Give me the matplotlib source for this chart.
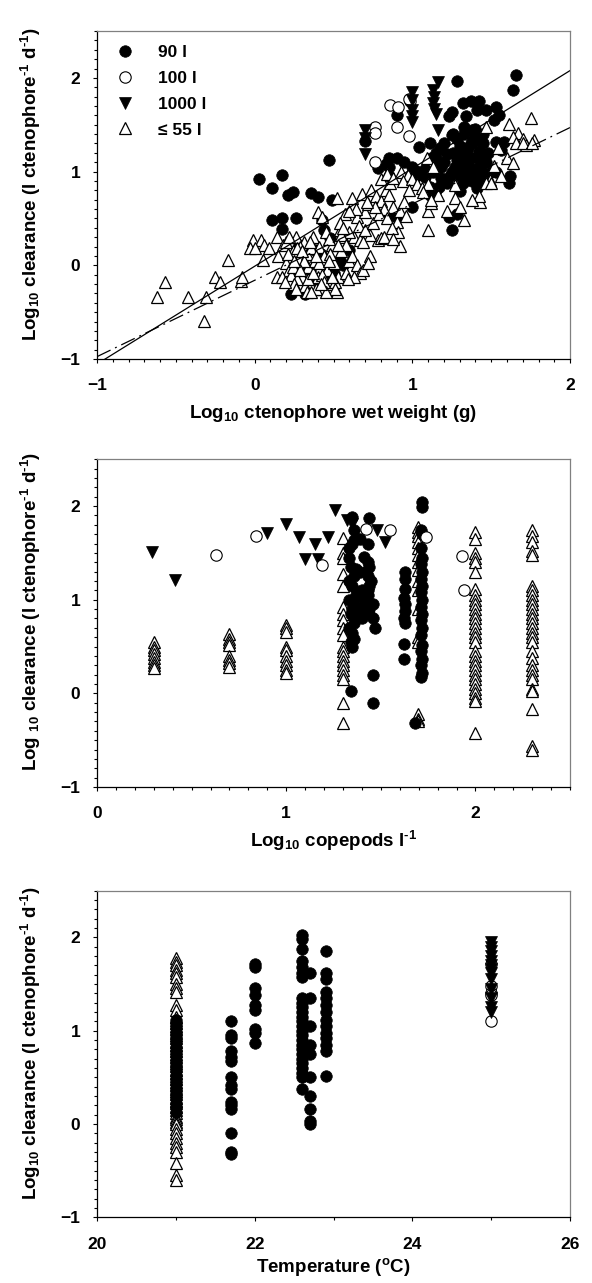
import matplotlib
matplotlib.use('Agg')
import matplotlib.pyplot as plt
from matplotlib.lines import Line2D
from matplotlib.ticker import MultipleLocator

plt.rcParams['font.family'] = ['Liberation Sans', 'DejaVu Sans']
plt.rcParams['font.weight'] = 'bold'
plt.rcParams['mathtext.fontset'] = 'custom'
plt.rcParams['mathtext.rm'] = 'Liberation Sans:bold'
plt.rcParams['mathtext.it'] = 'Liberation Sans:bold'
plt.rcParams['mathtext.bf'] = 'Liberation Sans:bold'
plt.rcParams['mathtext.default'] = 'rm'

# ---- panel 1: clearance vs log10 wet weight ----
w_90_x = [0.03, 0.11, 0.17, 0.21, 0.24, 0.36, 0.40, 0.49, 0.47, 0.11, 0.17, 0.26, 0.17, 0.43, 0.44,
          0.48, 0.60, 0.38, 0.56, 0.48, 0.23, 0.32, 0.30, 0.35, 0.42, 0.45, 0.28, 0.50, 0.38, 0.54,
          0.70, 0.85, 0.85, 0.85, 0.90, 0.83, 0.78, 0.85, 0.90, 0.995, 1.02, 1.08, 1.04, 1.11, 1.175,
          1.22, 1.08, 1.08, 1.11, 1.11, 1.17, 1.15, 1.25, 1.38, 1.39, 1.23, 1.25, 1.32, 1.34, 1.37,
          1.41, 1.42, 1.47, 1.53, 1.52, 1.55, 1.28, 1.66, 1.64, 1.30, 1.34, 1.41, 1.45, 1.28, 1.32,
          1.36, 1.40, 1.30, 1.41, 1.53, 1.58, 1.56, 1.53, 1.62, 1.61, 1.23, 1.28, 1.25, 1.20, 1.25,
          1.35, 1.38, 1.43, 1.33, 1.37, 1.42, 1.47, 1.50, 1.45, 1.02, 0.96, 1.13, 1.18, 1.15, 1.26,
          0.90, 1.26,
          1.15, 1.20, 1.28, 1.33, 1.38, 1.30, 1.22, 1.27, 1.42, 1.35, 1.45, 1.32, 1.18, 1.24, 1.40,
          1.48, 1.12, 1.00, 0.95, 1.33, 1.40, 1.45, 1.36, 1.29, 1.44, 1.31, 1.39]
w_90_y = [0.92, 0.83, 0.96, 0.75, 0.78, 0.77, 0.73, 0.70, 1.12, 0.48, 0.50, 0.50, 0.39, 0.48, 0.38,
          0.29, 0.16, 0.16, 0.00, -0.10, -0.31, -0.31, 0.00, -0.05, 0.12, -0.15, 0.22, -0.08, -0.18, 0.06,
          1.33, 1.14, 1.05, 0.95, 1.15, 1.08, 1.04, 0.52, 0.52, 0.625, 1.01, 0.94, 1.26, 1.30, 1.25,
          1.19, 1.03, 0.95, 0.84, 0.75, 0.84, 0.80, 1.39, 1.44, 1.33, 1.59, 1.64, 1.73, 1.59, 1.75,
          1.66, 1.75, 1.66, 1.69, 1.55, 1.60, 1.97, 2.03, 1.87, 1.27, 1.20, 1.16, 1.14, 1.12, 1.05,
          1.05, 1.02, 0.79, 0.82, 1.32, 1.32, 1.23, 1.00, 0.95, 0.875, 0.52, 0.55, 0.38, 1.10, 1.00,
          0.95, 0.90, 0.88, 1.12, 1.30, 1.22, 1.10, 1.00, 0.95, 0.95, 0.90, 1.00, 0.93, 1.13, 1.20,
          1.60, 1.40,
          1.20, 1.30, 1.35, 1.40, 1.15, 0.95, 0.88, 1.05, 1.05, 1.25, 1.30, 0.88, 1.05, 0.95, 0.95,
          1.20, 1.15, 1.05, 1.10, 1.48, 1.45, 1.40, 0.98, 1.18, 1.00, 1.08, 1.36]

w_100_x = [0.86, 0.91, 0.985, 0.976, 0.76, 0.76, 0.90, 0.98, 0.76]
w_100_y = [1.71, 1.69, 1.75, 1.78, 1.48, 1.41, 1.48, 1.38, 1.10]

w_1000_x = [1.16, 1.13, 1.14, 1.13, 1.14, 1.15, 1.00, 1.00, 1.00, 1.00, 1.00, 1.16, 0.70, 0.70, 0.70]
w_1000_y = [1.96, 1.87, 1.80, 1.73, 1.67, 1.62, 1.85, 1.76, 1.66, 1.59, 1.53, 1.44, 1.44, 1.36, 1.19]

w_55_x = [-0.62, -0.57, -0.42, -0.31, -0.32, -0.25, -0.22, -0.17, -0.09, -0.08,
          -0.01, 0.04, 0.06, -0.03, 0.00, 0.09, 0.05, 0.14,
          0.15, 0.18, 0.20, 0.22, 0.24, 0.26, 0.28, 0.30, 0.31, 0.33, 0.34, 0.35, 0.37, 0.38, 0.40,
          0.41, 0.42, 0.44, 0.45, 0.46, 0.47, 0.49, 0.50, 0.52, 0.53, 0.55, 0.56, 0.58, 0.60,
          0.20, 0.23, 0.27, 0.29, 0.32, 0.36, 0.39, 0.43, 0.48, 0.51, 0.54, 0.14, 0.17, 0.21, 0.25,
          0.40, 0.43, 0.52, 0.57, 0.62, 0.65, 0.70, 0.68, 0.72, 0.74, 0.77, 0.80, 0.83, 0.86, 0.88,
          0.90, 0.91, 0.92, 0.78, 0.80, 0.73, 0.63, 0.67, 0.60, 0.54, 0.55, 0.58, 0.62, 0.65, 0.67,
          0.63, 0.73, 0.69, 0.56, 0.72, 0.59,
          0.80, 0.84, 0.88, 0.93, 0.97, 0.94, 1.00, 1.03, 1.06, 1.10, 0.98, 0.92, 0.96, 1.10, 1.12,
          1.16, 1.07, 1.09, 1.13, 0.85, 0.82,
          1.10, 1.27, 1.43, 1.42, 1.49, 1.47, 1.47, 1.61, 1.75, 1.67, 1.70, 1.64, 1.77, 1.72, 1.66,
          1.60, 1.64, 1.52, 1.56, 1.50, 1.38, 1.33, 1.22, 1.27, 1.54, 1.70, 1.76, 1.12, 1.30,
          0.19, 0.24, 0.27, 0.31, 0.34, 0.37, 0.41, 0.44, 0.47, 0.51, 0.22, 0.26, 0.30, 0.35, 0.39,
          0.45, 0.49, 0.53, 0.33, 0.29, 0.42, 0.36, 0.25, 0.47,
          0.66, 0.70, 0.75, 0.79, 0.84, 0.87, 0.76, 0.71, 0.64, 0.82, 0.88, 0.95, 0.60, 0.69]
w_55_y = [-0.34, -0.18, -0.34, -0.34, -0.59, -0.12, -0.18, 0.06, -0.17, -0.12,
          0.27, 0.27, 0.22, 0.18, 0.18, 0.18, 0.06, 0.30,
          0.10, 0.22, 0.02, -0.05, 0.15, 0.30, 0.08, -0.12, 0.25, 0.12, -0.02, -0.20, 0.30, 0.05, -0.12,
          0.20, -0.25, 0.10, 0.35, -0.05, -0.20, 0.22, 0.02, -0.28, -0.12, 0.15, 0.30, -0.08, 0.05,
          0.25, -0.10, -0.15, 0.20, -0.22, 0.18, -0.25, -0.10, 0.12, -0.18, 0.38, -0.12, -0.12, 0.12, -0.20,
          0.57, 0.52, 0.72, 0.55, 0.72, 0.52, 0.57, 0.76, 0.65, 0.80, 0.74, 0.69, 0.80, 0.88, 0.62,
          0.46, 0.35, 0.21, 0.27, 0.29, 0.32, 0.30, 0.27, 0.36, 0.45, 0.32, 0.22, 0.10, 0.00, -0.08,
          -0.12, 0.10, -0.05, 0.40, 0.02, -0.15,
          0.92, 0.97, 0.93, 1.00, 0.96, 0.90, 0.92, 0.87, 0.82, 0.87, 0.80, 0.58, 0.53, 0.58, 0.66,
          0.75, 0.78, 1.14, 1.05, 0.75, 0.60,
          0.38, 0.86, 0.68, 0.74, 0.91, 0.88, 1.48, 1.51, 1.57, 1.41, 1.35, 1.37, 1.34, 1.28, 1.30,
          1.14, 1.09, 1.06, 0.95, 0.88, 0.70, 0.48, 0.58, 0.72, 1.25, 1.31, 1.30, 0.70, 0.62,
          -0.18, -0.02, 0.18, 0.05, -0.15, -0.08, 0.02, -0.18, 0.28, -0.25, 0.30, -0.25, 0.15, 0.25, 0.10,
          -0.28, -0.12, 0.22, -0.28, -0.05, -0.20, -0.28, 0.05, 0.05,
          0.42, 0.38, 0.45, 0.55, 0.50, 0.40, 0.62, 0.68, 0.60, 0.30, 0.28, 0.68, 0.58, 0.25]

# regression lines (slope, intercept)
fit_all = (1.044, -0.01)
fit_55 = (0.815, -0.16)

# ---- panel 2: clearance vs log10 copepods ----
c_90_x = [1.35, 1.36, 1.36, 1.35, 1.37, 1.36, 1.35, 1.37, 1.36, 1.35, 1.37, 1.36, 1.35, 1.36, 1.35, 1.34,
          1.44, 1.41, 1.42, 1.45, 1.43, 1.41, 1.46, 1.44, 1.46, 1.47, 1.46, 1.46,
          1.33, 1.33, 1.34, 1.33, 1.33, 1.34, 1.33, 1.34,
          1.39, 1.39, 1.40, 1.39, 1.40,
          1.43, 1.43, 1.44, 1.43, 1.44, 1.43, 1.44, 1.43,
          1.63, 1.63, 1.63, 1.62, 1.63, 1.63, 1.62, 1.63, 1.62, 1.62,
          1.72, 1.72, 1.71, 1.72, 1.71, 1.72, 1.71, 1.72, 1.71, 1.72, 1.71, 1.72, 1.71, 1.72, 1.71,
          1.72, 1.71, 1.72, 1.71, 1.72, 1.71, 1.72, 1.71, 1.68]
c_90_y = [1.88, 1.74, 1.64, 1.60, 1.33, 1.25, 1.15, 1.05, 0.95, 0.90, 0.80, 0.75, 0.65, 0.58, 0.50, 0.02,
          1.87, 1.46, 1.30, 1.20, 1.10, 1.00, 0.95, 0.90, 0.80, 0.70, 0.20, -0.10,
          1.55, 1.45, 1.35, 1.20, 1.00, 0.85, 0.70, 0.55,
          1.65, 1.30, 1.10, 0.90, 0.80,
          1.60, 1.40, 1.35, 1.25, 1.15, 1.05, 0.85, 0.95,
          1.30, 1.22, 1.12, 1.02, 0.95, 0.88, 0.80, 0.75, 0.53, 0.37,
          2.04, 1.99, 1.75, 1.70, 1.55, 1.45, 1.38, 1.30, 1.22, 1.15, 1.08, 1.00, 0.92, 0.85, 0.78,
          0.70, 0.62, 0.52, 0.45, 0.37, 0.30, 0.22, 0.17, -0.32]

c_100_x = [0.63, 0.84, 1.19, 1.42, 1.55, 1.74, 1.93, 1.94]
c_100_y = [1.48, 1.68, 1.37, 1.76, 1.74, 1.67, 1.47, 1.10]

c_1000_x = [0.29, 0.41, 0.90, 1.00, 1.07, 1.15, 1.10, 1.17, 1.22, 1.26, 1.32, 1.35, 1.48, 1.52]
c_1000_y = [1.51, 1.21, 1.71, 1.81, 1.67, 1.60, 1.44, 1.43, 1.67, 1.96, 1.85, 1.81, 1.74, 1.62]

cop_levels = [0.301, 0.699, 1.0, 1.301, 1.699, 2.0, 2.301]
c_55_y = [
    [0.55, 0.50, 0.46, 0.42, 0.38, 0.34, 0.30, 0.27],
    [0.63, 0.58, 0.55, 0.52, 0.40, 0.36, 0.32, 0.28],
    [0.73, 0.70, 0.66, 0.50, 0.46, 0.40, 0.35, 0.30, 0.25, 0.22],
    [1.66, 1.50, 1.45, 1.28, 1.15, 0.92, 0.85, 0.78, 0.70, 0.62, 0.50, 0.45, 0.40, 0.35, 0.30,
     0.25, 0.20, 0.15, -0.10, -0.32],
    [1.78, 1.72, 1.68, 1.62, 1.55, 1.48, 1.40, 1.32, 1.20, 1.10, 0.90, 0.60, 0.55, -0.22, -0.27, -0.30],
    [1.72, 1.65, 1.50, 1.45, 1.40, 1.30, 1.12, 1.05, 1.00, 0.95, 0.90, 0.85, 0.80, 0.75, 0.70, 0.65,
     0.60, 0.55, 0.45, 0.40, 0.35, 0.30, 0.25, 0.20, 0.15, 0.10, 0.05, 0.00, -0.05, -0.08, -0.42],
    [1.74, 1.68, 1.62, 1.52, 1.48, 1.15, 1.10, 1.05, 1.00, 0.95, 0.90, 0.85, 0.80, 0.75, 0.70, 0.65,
     0.60, 0.55, 0.45, 0.38, 0.30, 0.25, 0.20, 0.15, 0.05, 0.02, -0.17, -0.56, -0.60],
]

# ---- panel 3: clearance vs temperature ----
t_90 = {
    21.0: [1.12, 1.08, 1.03, 0.98, 0.93, 0.88, 0.83, 0.78, 0.73, 0.68, 0.63, 0.58, 0.53, 0.48, 0.43,
           0.38, 0.33, 0.28, 0.23, 0.18, 0.13],
    21.7: [1.10, 0.95, 0.92, 0.78, 0.72, 0.68, 0.50, 0.42, 0.38, 0.24, 0.20, 0.16, -0.10, -0.30, -0.32],
    22.0: [1.72, 1.68, 1.46, 1.38, 1.28, 1.22, 1.02, 0.98, 0.87],
    22.6: [2.03, 1.98, 1.88, 1.75, 1.68, 1.62, 1.58, 1.35, 1.30, 1.25, 1.20, 1.15, 1.10, 1.05, 1.00,
           0.95, 0.90, 0.85, 0.80, 0.75, 0.70, 0.65, 0.60, 0.55, 0.50, 0.37],
    22.7: [1.62, 1.35, 1.05, 0.85, 0.75, 0.50, 0.30, 0.16, 0.03, 0.00],
    22.9: [1.85, 1.62, 1.55, 1.42, 1.35, 1.28, 1.20, 1.12, 1.05, 0.98, 0.92, 0.85, 0.78, 0.52],
}
t_100_y = [1.72, 1.48, 1.40, 1.38, 1.10]
t_1000_y = [1.95, 1.90, 1.85, 1.80, 1.75, 1.70, 1.66, 1.62, 1.55, 1.45, 1.35, 1.25, 1.20]
t_55_y = [1.78, 1.74, 1.70, 1.65, 1.62, 1.58, 1.50, 1.46, 1.42, 1.28, 1.22, 1.15, 1.12, 1.08, 1.05,
          1.02, 0.98, 0.95, 0.92, 0.88, 0.85, 0.82, 0.78, 0.75, 0.72, 0.68, 0.65, 0.62, 0.58, 0.55,
          0.52, 0.48, 0.45, 0.42, 0.38, 0.35, 0.32, 0.28, 0.25, 0.22, 0.18, 0.15, 0.12, 0.08, 0.05,
          0.02, 0.00, -0.05, -0.10, -0.15, -0.20, -0.25, -0.30, -0.42, -0.55, -0.60]

ylab = r'Log$_{10}$ clearance (l ctenophore$^{\text{-1}}$ d$^{\text{-1}}$)'
ylab2 = r'Log $_{10}$ clearance (l ctenophore$^{\text{-1}}$ d$^{\text{-1}}$)'

st_90 = dict(ls='none', marker='o', ms=8.3, mfc='black', mec='black', mew=0.5)
st_100 = dict(ls='none', marker='o', ms=8.2, mfc='white', mec='black', mew=0.8)
st_1000 = dict(ls='none', marker='v', ms=8.5, mfc='black', mec='black', mew=0.5)
st_55 = dict(ls='none', marker='^', ms=8.5, mfc='white', mec='black', mew=0.9)


def style_axes(ax, xlim, xmajor, xminor, xlabel, xlab_y, ylabel):
    ax.set_xlim(*xlim)
    ax.set_ylim(-1, 2.5)
    ax.xaxis.set_major_locator(MultipleLocator(xmajor))
    ax.xaxis.set_minor_locator(MultipleLocator(xminor))
    ax.set_yticks([-1, 0, 1, 2])
    ax.yaxis.set_minor_locator(MultipleLocator(0.1))
    ax.tick_params(which='both', direction='out', top=False, right=False, width=0.8, labelsize=12.5)
    ax.tick_params(which='major', length=3)
    ax.tick_params(which='minor', length=2.4)
    ax.tick_params(axis='x', which='major', pad=11)
    ax.tick_params(axis='y', which='major', pad=9)
    for s in ['top', 'right']:
        ax.spines[s].set_color('#808080')
    for s in ['left', 'bottom']:
        ax.spines[s].set_color('black')
    for s in ax.spines.values():
        s.set_linewidth(0.9)
    ax.set_xlabel(xlabel, fontsize=13.5, fontweight='bold', va='center')
    ax.xaxis.set_label_coords(0.5, xlab_y)
    ax.set_ylabel(ylabel, fontsize=13.5, fontweight='bold', va='center')
    ax.yaxis.set_label_coords(-0.14, 0.535)


fig = plt.figure(figsize=(5.92, 12.83), dpi=100)
ax1 = fig.add_axes([0.1639, 0.7202, 0.7990, 0.2556])
ax2 = fig.add_axes([0.1639, 0.3866, 0.7990, 0.2554])
ax3 = fig.add_axes([0.1639, 0.0512, 0.7990, 0.2545])

# panel 1
ax1.plot(w_90_x, w_90_y, **st_90)
ax1.plot(w_100_x, w_100_y, **st_100)
ax1.plot(w_1000_x, w_1000_y, **st_1000)
ax1.plot(w_55_x, w_55_y, **st_55)
xs = [-1.0, 2.0]
ax1.plot(xs, [fit_all[0] * v + fit_all[1] for v in xs], color='black', lw=0.9)
ax1.plot(xs, [fit_55[0] * v + fit_55[1] for v in xs], color='black', lw=0.9,
         ls=(0, (12, 4, 1.5, 4)))
style_axes(ax1, (-1, 2), 1, 0.1, 'Log$_{10}$ ctenophore wet weight (g)', -0.165, ylab)

handles = [Line2D([], [], **st_90), Line2D([], [], **st_100),
           Line2D([], [], **st_1000), Line2D([], [], **st_55)]
labels = ['90 l', '100 l', '1000 l', '\u2264 55 l']
ax1.legend(handles, labels, loc='upper left', bbox_to_anchor=(0.040, 0.957), frameon=False,
           borderpad=0, borderaxespad=0, handlelength=1.0, handletextpad=1.4,
           labelspacing=0.61, prop={'size': 12.5, 'weight': 'bold'})

# panel 2
ax2.plot(c_1000_x, c_1000_y, **st_1000)
for lev, ys in zip(cop_levels, c_55_y):
    ax2.plot([lev] * len(ys), ys, **st_55)
ax2.plot(c_90_x, c_90_y, **st_90)
ax2.plot(c_100_x, c_100_y, **st_100)
style_axes(ax2, (0, 2.5), 1, 0.1, r'Log$_{10}$ copepods l$^{\text{-1}}$', -0.165, ylab2)

# panel 3
ax3.plot([21.0] * len(t_55_y), t_55_y, **st_55)
for temp, ys in t_90.items():
    ax3.plot([temp] * len(ys), ys, **st_90)
ax3.plot([25.0] * len(t_100_y), t_100_y, **st_100)
ax3.plot([25.0] * len(t_1000_y), t_1000_y, **st_1000)
style_axes(ax3, (20, 26), 2, 1, 'Temperature ($^{o}$C)', -0.153, ylab)

fig.savefig('out.png', dpi=100)
